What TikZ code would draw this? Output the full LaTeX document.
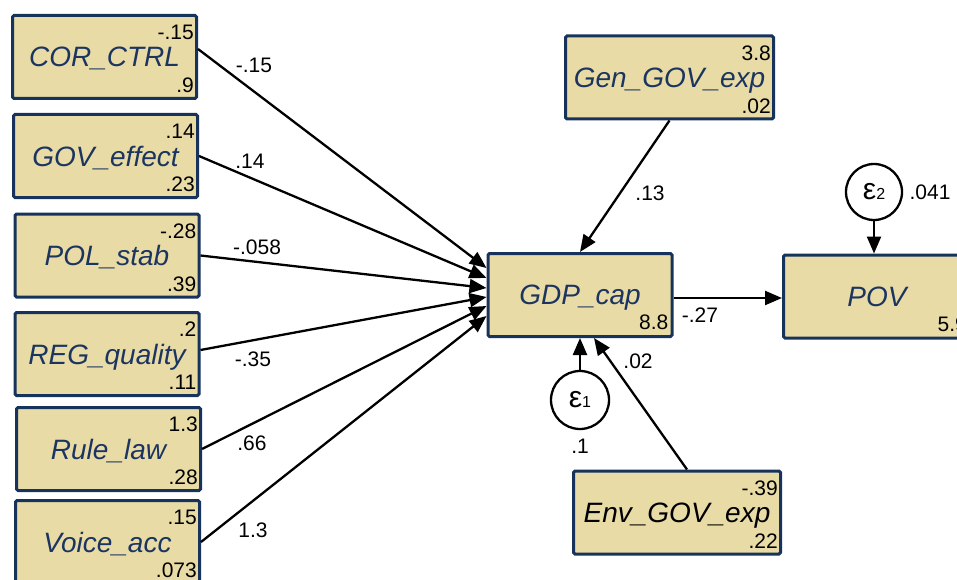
\documentclass[tikz,border=0pt]{standalone}
\usepackage{fontspec}
\setmainfont{Liberation Sans}
\usetikzlibrary{arrows.meta}

\definecolor{boxfill}{HTML}{E8DBA6}
\definecolor{boxline}{HTML}{17335C}
\definecolor{boxtext}{HTML}{1C3560}

\tikzset{
	obs/.style={draw=boxline, fill=boxfill, line width=3pt, rounded corners=1.5pt, inner sep=0pt,
		minimum width=184pt, minimum height=83pt, text=boxtext, text depth=0pt,
		font=\fontsize{28}{32}\selectfont\itshape},
	num/.style={inner sep=0pt, font=\fontsize{21}{25}\selectfont},
	err/.style={draw, circle, line width=2.3pt, fill=white, minimum size=56pt, inner sep=0pt},
	link/.style={line width=2.3pt, -{Triangle[length=17pt,width=14pt]}}
}

% box with its mean (top) and variance (bottom)
\def\obsbox[#1](#2)(#3)#4#5#6{%
	\node[obs,#1] (#2) at (#3) {#4};
	\node[num, anchor=north east] (#2-m) at ([xshift=-4pt,yshift=-11pt]#2.north east) {#5};
	\node[num, anchor=south east] (#2-v) at ([xshift=-4pt,yshift=7pt]#2.south east) {#6};}

\begin{document}
\begin{tikzpicture}[x=1pt, y=-1pt]
			%%%%% START %%%%%
			\useasboundingbox (0,0) rectangle (957,580);
			\clip (0,0) rectangle (957,580);
			
			\obsbox[](cor)(104.5,57){COR\_CTRL}{-.15}{.9}
			\obsbox[](gov)(105.5,156){GOV\_effect}{.14}{.23}
			\obsbox[](pol)(107,255.5){POL\_stab}{-.28}{.39}
			\obsbox[](reg)(107,354){REG\_quality}{.2}{.11}
			\obsbox[](rule)(108.5,449){Rule\_law}{1.3}{.28}
			\obsbox[](voice)(107.5,542){Voice\_acc}{.15}{.073}
			
			\obsbox[minimum width=208pt](gen)(669.5,77.5){Gen\_GOV\_exp}{3.8}{.02}
			\obsbox[minimum width=207pt, text=black](env)(677,512.5){Env\_GOV\_exp}{-.39}{.22}
			
			\node[obs] (gdp) at (580,295) {GDP\_cap};
			\node[num, anchor=south east] (gdp-v) at ([xshift=-5pt,yshift=8pt]gdp.south east) {8.8};
			
			\node[obs, minimum width=187pt] (pov) at (877,296.5) {POV};
			\node[num, anchor=south east] (pov-v) at ([xshift=-5pt,yshift=8pt]pov.south east) {5.9};
			
			\node[err, minimum size=58pt] (e1) at (580,400) {\fontsize{30}{30}\selectfont ε\fontsize{16}{16}\selectfont 1};
			\node[err] (e2) at (874,192) {\fontsize{30}{30}\selectfont ε\fontsize{16}{16}\selectfont 2};
			
			%%%%% PATHS %%%%%
			\draw[link] ([yshift=8pt]cor.east) -- ([yshift=27pt]gdp.west);
			\draw[link] (gov.east) -- ([yshift=17pt]gdp.west);
			\draw[link] (pol.east) -- ([yshift=7pt]gdp.west);
			\draw[link] ([yshift=4pt]reg.east) -- ([yshift=-2pt]gdp.west);
			\draw[link] (rule.east) -- ([yshift=-11pt]gdp.west);
			\draw[link] (voice.east) -- ([yshift=-21pt]gdp.west);
			
			\draw[link] (gen.south) -- (gdp.north);
			\draw[link] ([xshift=10pt]env.north) -- ([xshift=14pt]gdp.south);
			\draw[link] (e1) -- (gdp);
			\draw[link] ([yshift=-3pt]gdp.east) -- ([yshift=-3pt]gdp.east -| pov.west);
			\draw[link] (e2) -- (e2 |- pov.north);
			
			%%%%% COEFFICIENTS %%%%%
			\node[num] (w-cor) at (254,65) {-.15};
			\node[num] (w-gov) at (250,161) {.14};
			\node[num] (w-pol) at (257,247) {-.058};
			\node[num] (w-reg) at (253,359) {-.35};
			\node[num] (w-rule) at (252,443) {.66};
			\node[num] (w-voice) at (253,530) {1.3};
			\node[num] (w-gen) at (650,193) {.13};
			\node[num] (w-env) at (638,361) {.02};
			\node[num] (w-gdp) at (700,315) {-.27};
			\node[num] (v-e1) at (580,446) {.1};
			\node[num] (v-e2) at (930,192) {.041};
			
			%%%%% END %%%%%
\end{tikzpicture}
\end{document}
